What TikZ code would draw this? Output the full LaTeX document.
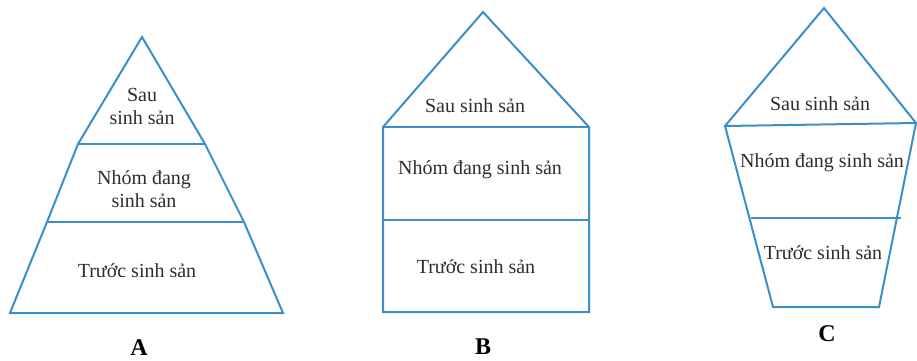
\documentclass[tikz,border=0pt]{standalone}
\usepackage{fontspec}
\setmainfont{Liberation Serif}
\definecolor{edgeblue}{RGB}{58,142,202}
\definecolor{inkgray}{RGB}{45,45,45}
\tikzset{
  outline/.style={draw=edgeblue, line width=2pt, line join=miter},
  divider/.style={draw=edgeblue, line width=2pt},
  zone/.style={font=\fontsize{20}{22}\selectfont, text=inkgray, align=center, inner sep=0pt},
  caption/.style={font=\fontsize{24}{26}\selectfont\bfseries, text=black, inner sep=0pt}
}
\begin{document}
\begin{tikzpicture}[x=1pt,y=-1pt]
\useasboundingbox (0,0) rectangle (917,360);

% ---- A: pyramid ----
\coordinate (A-top) at (142,37);
\coordinate (A-1l) at (78,144);
\coordinate (A-1r) at (205,144);
\coordinate (A-2l) at (47,222);
\coordinate (A-2r) at (244,222);
\coordinate (A-bl) at (10,313);
\coordinate (A-br) at (283,313);
\draw[outline] (A-top) -- (A-1r) -- (A-2r) -- (A-br) -- (A-bl) -- (A-2l) -- (A-1l) -- cycle;
\draw[divider] (A-1l) -- (A-1r);
\draw[divider] (A-2l) -- (A-2r);
\node[zone] (A-post) at (142,106) {Sau\\[1pt]sinh sản};
\node[zone] (A-repro) at (144,189) {Nhóm đang\\[1pt]sinh sản};
\node[zone] (A-pre) at (137,271) {Trước sinh sản};
\node[caption] (A-cap) at (139,348) {A};

% ---- B: house ----
\coordinate (B-top) at (483,12);
\coordinate (B-tl) at (383,127);
\coordinate (B-tr) at (589,127);
\coordinate (B-ml) at (383,220);
\coordinate (B-mr) at (589,220);
\coordinate (B-bl) at (383,312);
\coordinate (B-br) at (589,312);
\draw[outline] (B-top) -- (B-tr) -- (B-br) -- (B-bl) -- (B-tl) -- cycle;
\draw[divider] (B-tl) -- (B-tr);
\draw[divider] (B-ml) -- (B-mr);
\node[zone] (B-post) at (475,106) {Sau sinh sản};
\node[zone] (B-repro) at (480,170) {Nhóm đang sinh sản};
\node[zone] (B-pre) at (476,267) {Trước sinh sản};
\node[caption] (B-cap) at (483,347) {B};

% ---- C: inverted trapezoid under a roof ----
\coordinate (C-top) at (824,8);
\coordinate (C-tl) at (725,126);
\coordinate (C-tr) at (916,123);
\coordinate (C-ml) at (751,218);
\coordinate (C-mr) at (901,218);
\coordinate (C-bl) at (773,307);
\coordinate (C-br) at (879,307);
\draw[outline] (C-top) -- (C-tr) -- (C-br) -- (C-bl) -- (C-tl) -- cycle;
\draw[divider] (C-tl) -- (C-tr);
\draw[divider] (C-ml) -- (C-mr);
\node[zone] (C-post) at (820,104) {Sau sinh sản};
\node[zone] (C-repro) at (822,163) {Nhóm đang sinh sản};
\node[zone] (C-pre) at (823,253) {Trước sinh sản};
\node[caption] (C-cap) at (827,334) {C};
\end{tikzpicture}
\end{document}
